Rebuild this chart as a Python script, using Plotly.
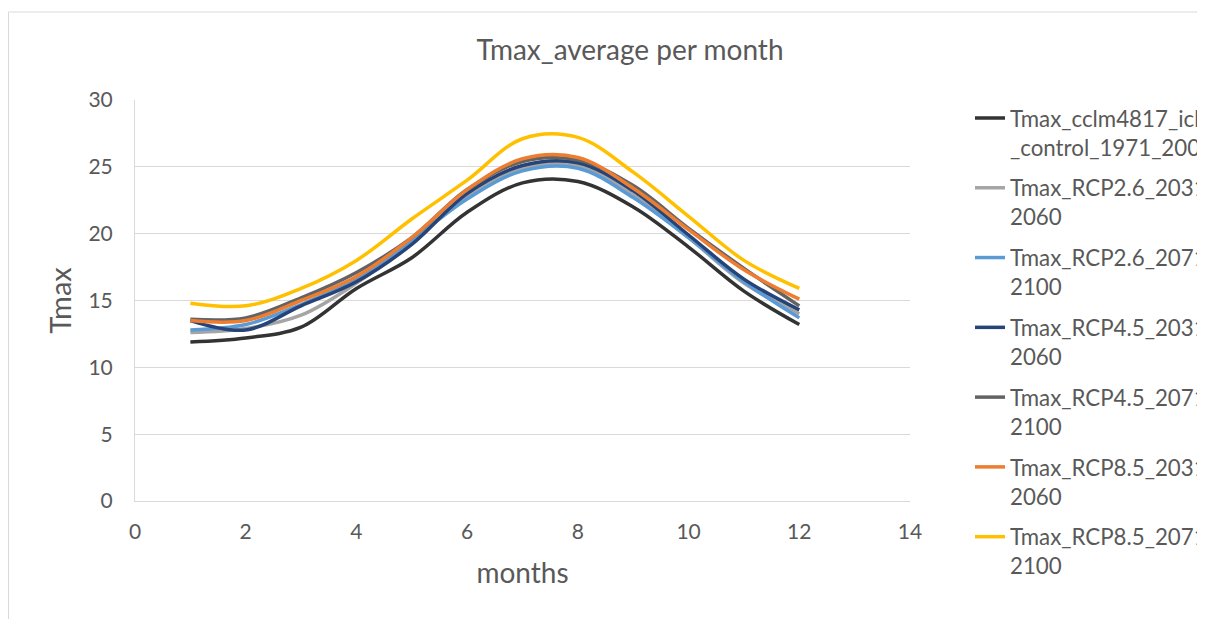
import plotly.graph_objects as go

months = [1, 2, 3, 4, 5, 6, 7, 8, 9, 10, 11, 12]

series_names = [
    "Tmax_cclm4817_ichec<br>_control_1971_2000",
    "Tmax_RCP2.6_2031-<br>2060",
    "Tmax_RCP2.6_2071-<br>2100",
    "Tmax_RCP4.5_2031-<br>2060",
    "Tmax_RCP4.5_2071-<br>2100",
    "Tmax_RCP8.5_2031-<br>2060",
    "Tmax_RCP8.5_2071-<br>2100",
]

control_1971_2000 = [11.9, 12.2, 13.0, 15.9, 18.2, 21.6, 23.8, 23.9, 22.0, 19.0, 15.7, 13.2]
rcp26_2031_2060 = [12.6, 12.9, 13.9, 16.3, 19.4, 22.8, 24.9, 25.1, 22.9, 19.7, 16.3, 14.0]
rcp26_2071_2100 = [12.8, 13.2, 14.7, 16.6, 19.5, 22.6, 24.7, 24.9, 22.7, 19.7, 16.4, 13.7]
rcp45_2031_2060 = [13.5, 12.8, 14.6, 16.4, 19.2, 23.0, 25.1, 25.3, 23.2, 19.9, 16.6, 14.3]
rcp45_2071_2100 = [13.6, 13.7, 15.2, 17.1, 19.7, 23.3, 25.4, 25.5, 23.6, 20.4, 17.4, 14.6]
rcp85_2031_2060 = [13.5, 13.5, 15.0, 16.8, 19.7, 23.3, 25.6, 25.7, 23.4, 20.3, 17.3, 15.1]
rcp85_2071_2100 = [14.8, 14.6, 15.9, 18.0, 21.1, 24.0, 27.1, 27.2, 24.6, 21.3, 18.0, 15.9]

series_values = [control_1971_2000, rcp26_2031_2060, rcp26_2071_2100, rcp45_2031_2060,
                 rcp45_2071_2100, rcp85_2031_2060, rcp85_2071_2100]
colors = ["#333333", "#a5a5a5", "#5b9bd5", "#264478", "#636363", "#ed7d31", "#ffc000"]

FONT = "Lato, Carlito, Calibri, sans-serif"
TXT = "#595959"

# figure is shown with an 8px page margin; the chart is cropped at x=1197 on screen
W, H = 1189, 611
L, T = 127, 92          # plot area left / top in figure px
PW, PH = 775, 401       # plot area size

fig = go.Figure()
for i, (name, vals, col) in enumerate(zip(series_names, series_values, colors)):
    fig.add_trace(go.Scatter(
        x=months, y=vals, mode="lines", name=name, legendgroup=f"g{i}",
        line=dict(color=col, width=3.5, shape="spline", smoothing=1.0),
    ))

fig.update_layout(
    width=W, height=H,
    margin=dict(l=L, r=W - L - PW, t=T, b=H - T - PH, autoexpand=False),
    paper_bgcolor="white", plot_bgcolor="white",
    font=dict(family=FONT, color=TXT),
    title=dict(text="Tmax_average per month", x=622 / W, xanchor="center",
               y=1 - 42 / H, yanchor="middle", font=dict(size=28, color=TXT, family=FONT)),
    showlegend=True,
    legend=dict(x=(970 - 135) / PW, xanchor="left", y=1.0 + 3 / PH, yanchor="top",
                font=dict(size=22.3, color=TXT, family=FONT), valign="top",
                bgcolor="rgba(0,0,0,0)", tracegroupgap=8.8, maxheight=600),
    xaxis=dict(range=[0, 14], dtick=2, tick0=0, showgrid=False, zeroline=False,
               showline=True, linecolor="#d9d9d9", linewidth=1, ticks="",
               tickfont=dict(size=21, color=TXT, family=FONT), ticklabelstandoff=12,
               title=dict(text="months", font=dict(size=28, color=TXT, family=FONT), standoff=21)),
    yaxis=dict(range=[0, 30], dtick=5, tick0=0, showgrid=True, gridcolor="#d9d9d9", gridwidth=1,
               zeroline=False, showline=True, linecolor="#d9d9d9", linewidth=1, ticks="",
               tickfont=dict(size=21, color=TXT, family=FONT), ticklabelstandoff=17,
               title=dict(text="Tmax", font=dict(size=29, color=TXT, family=FONT), standoff=8)),
)

# chart-area border (Excel style), cropped on the right and bottom
top_y = (T + PH - 4) / PH
left_x = (0.5 - L) / PW
fig.add_shape(type="line", xref="paper", yref="paper",
              x0=left_x, x1=(W - L) / PW, y0=top_y, y1=top_y,
              line=dict(color="#d9d9d9", width=1), layer="below")
fig.add_shape(type="line", xref="paper", yref="paper",
              x0=left_x, x1=left_x, y0=top_y, y1=(T + PH - 640) / PH,
              line=dict(color="#d9d9d9", width=1), layer="below")

fig.write_html("out.html")
